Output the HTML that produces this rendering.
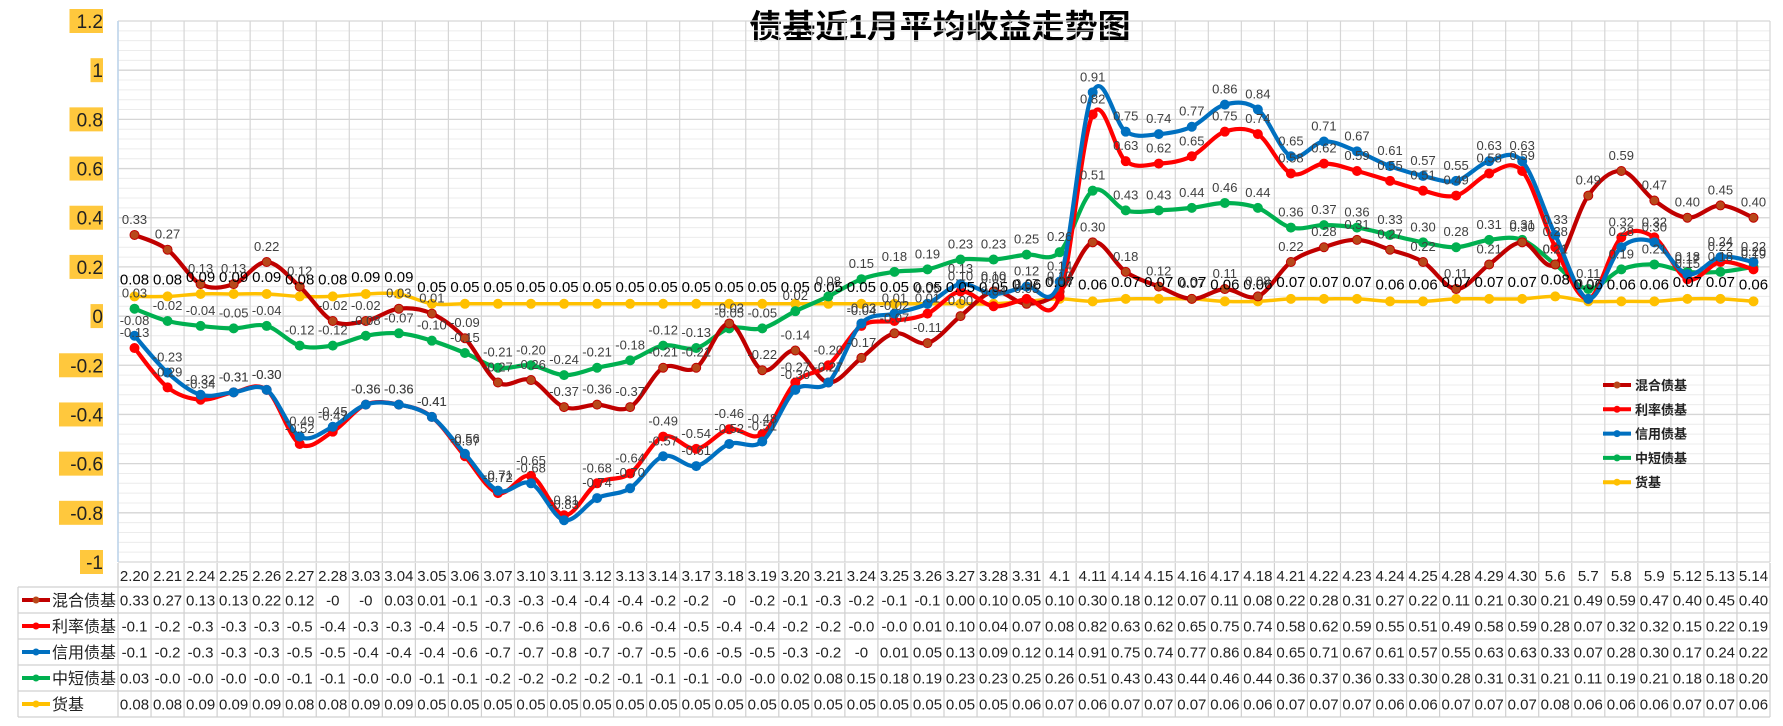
<!DOCTYPE html>
<html><head><meta charset="utf-8"><style>
body{margin:0;background:#fff;}
svg{display:block;font-family:"Liberation Sans","Noto Sans CJK SC",sans-serif;}
</style></head><body>
<svg id="chart" width="1783" height="726" viewBox="0 0 1783 726" xmlns="http://www.w3.org/2000/svg">
<text x="940" y="38" text-anchor="middle" font-size="33" font-weight="bold" fill="#000">债基近1月平均收益走势图</text>
<g id="grid"></g>
<g id="yaxis"></g>
<g id="series"></g>
<g id="labels"></g>
<g id="legend"></g>
<g id="table"></g>
</svg>
<script>
const categories=["2.20","2.21","2.24","2.25","2.26","2.27","2.28","3.03","3.04","3.05","3.06","3.07","3.10","3.11","3.12","3.13","3.14","3.17","3.18","3.19","3.20","3.21","3.24","3.25","3.26","3.27","3.28","3.31","4.1","4.11","4.14","4.15","4.16","4.17","4.18","4.21","4.22","4.23","4.24","4.25","4.28","4.29","4.30","5.6","5.7","5.8","5.9","5.12","5.13","5.14"];
const seriesNames=["混合债基","利率债基","信用债基","中短债基","货基"];
const hunhe=[0.33,0.27,0.13,0.13,0.22,0.12,-0.02,-0.02,0.03,0.01,-0.09,-0.27,-0.26,-0.37,-0.36,-0.37,-0.21,-0.21,-0.03,-0.22,-0.14,-0.27,-0.17,-0.07,-0.11,0.00,0.10,0.05,0.10,0.30,0.18,0.12,0.07,0.11,0.08,0.22,0.28,0.31,0.27,0.22,0.11,0.21,0.30,0.21,0.49,0.59,0.47,0.40,0.45,0.40];
const lilv=[-0.13,-0.29,-0.34,-0.31,-0.30,-0.52,-0.47,-0.36,-0.36,-0.41,-0.57,-0.72,-0.65,-0.81,-0.68,-0.64,-0.49,-0.54,-0.46,-0.48,-0.27,-0.20,-0.04,-0.02,0.01,0.10,0.04,0.07,0.08,0.82,0.63,0.62,0.65,0.75,0.74,0.58,0.62,0.59,0.55,0.51,0.49,0.58,0.59,0.28,0.07,0.32,0.32,0.15,0.22,0.19];
const xinyong=[-0.08,-0.23,-0.32,-0.31,-0.30,-0.49,-0.45,-0.36,-0.36,-0.41,-0.56,-0.71,-0.68,-0.83,-0.74,-0.70,-0.57,-0.61,-0.52,-0.51,-0.30,-0.27,-0.03,0.01,0.05,0.13,0.09,0.12,0.14,0.91,0.75,0.74,0.77,0.86,0.84,0.65,0.71,0.67,0.61,0.57,0.55,0.63,0.63,0.33,0.07,0.28,0.30,0.17,0.24,0.22];
const zhongduan=[0.03,-0.02,-0.04,-0.05,-0.04,-0.12,-0.12,-0.08,-0.07,-0.10,-0.15,-0.21,-0.20,-0.24,-0.21,-0.18,-0.12,-0.13,-0.05,-0.05,0.02,0.08,0.15,0.18,0.19,0.23,0.23,0.25,0.26,0.51,0.43,0.43,0.44,0.46,0.44,0.36,0.37,0.36,0.33,0.30,0.28,0.31,0.31,0.21,0.11,0.19,0.21,0.18,0.18,0.20];
const huoji=[0.08,0.08,0.09,0.09,0.09,0.08,0.08,0.09,0.09,0.05,0.05,0.05,0.05,0.05,0.05,0.05,0.05,0.05,0.05,0.05,0.05,0.05,0.05,0.05,0.05,0.05,0.05,0.06,0.07,0.06,0.07,0.07,0.07,0.06,0.06,0.07,0.07,0.07,0.06,0.06,0.07,0.07,0.07,0.08,0.06,0.06,0.06,0.07,0.07,0.06];
const tableHunhe=["0.33","0.27","0.13","0.13","0.22","0.12","-0","-0","0.03","0.01","-0.1","-0.3","-0.3","-0.4","-0.4","-0.4","-0.2","-0.2","-0","-0.2","-0.1","-0.3","-0.2","-0.1","-0.1","0.00","0.10","0.05","0.10","0.30","0.18","0.12","0.07","0.11","0.08","0.22","0.28","0.31","0.27","0.22","0.11","0.21","0.30","0.21","0.49","0.59","0.47","0.40","0.45","0.40"];
const tableLilv=["-0.1","-0.2","-0.3","-0.3","-0.3","-0.5","-0.4","-0.3","-0.3","-0.4","-0.5","-0.7","-0.6","-0.8","-0.6","-0.6","-0.4","-0.5","-0.4","-0.4","-0.2","-0.2","-0.0","-0.0","0.01","0.10","0.04","0.07","0.08","0.82","0.63","0.62","0.65","0.75","0.74","0.58","0.62","0.59","0.55","0.51","0.49","0.58","0.59","0.28","0.07","0.32","0.32","0.15","0.22","0.19"];
const tableXinyong=["-0.1","-0.2","-0.3","-0.3","-0.3","-0.5","-0.5","-0.4","-0.4","-0.4","-0.6","-0.7","-0.7","-0.8","-0.7","-0.7","-0.5","-0.6","-0.5","-0.5","-0.3","-0.2","-0","0.01","0.05","0.13","0.09","0.12","0.14","0.91","0.75","0.74","0.77","0.86","0.84","0.65","0.71","0.67","0.61","0.57","0.55","0.63","0.63","0.33","0.07","0.28","0.30","0.17","0.24","0.22"];
const tableZhongduan=["0.03","-0.0","-0.0","-0.0","-0.0","-0.1","-0.1","-0.0","-0.0","-0.1","-0.1","-0.2","-0.2","-0.2","-0.2","-0.1","-0.1","-0.1","-0.0","-0.0","0.02","0.08","0.15","0.18","0.19","0.23","0.23","0.25","0.26","0.51","0.43","0.43","0.44","0.46","0.44","0.36","0.37","0.36","0.33","0.30","0.28","0.31","0.31","0.21","0.11","0.19","0.21","0.18","0.18","0.20"];
const yTicks=[1.2,1,0.8,0.6,0.4,0.2,0,-0.2,-0.4,-0.6,-0.8,-1];
const yTickLabels=["1.2","1","0.8","0.6","0.4","0.2","0","-0.2","-0.4","-0.6","-0.8","-1"];

const NS="http://www.w3.org/2000/svg";
const L=118,R=1770,T=21,B=562,YMAX=1.2,YMIN=-1;
const colW=(R-L)/categories.length;
function x(i){return L+colW*(i+0.5);}
function y(v){return T+(YMAX-v)/(YMAX-YMIN)*(B-T);}
function mk(tag,attrs,parent){const e=document.createElementNS(NS,tag);for(const k in attrs)e.setAttribute(k,attrs[k]);parent.appendChild(e);return e;}
const grid=document.getElementById('grid');
for(let v=YMIN;v<=YMAX+1e-9;v+=0.04){
  const ln=mk('line',{x1:L,x2:R,y1:y(v),y2:y(v),stroke:'#ececec','stroke-width':1},grid);
  
  
}
yTicks.forEach(v=>{
  const ln=mk('line',{x1:L,x2:R,y1:y(v),y2:y(v),stroke:'#d6d6d6','stroke-width':1.3},grid);
  
  
});
for(let i=0;i<=categories.length;i++){
  const ln=mk('line',{x1:L+colW*i,x2:L+colW*i,y1:T,y2:B,stroke:'#d6d6d6','stroke-width':1.2},grid);
  
  
}
const axl=mk('line',{x1:L,x2:L,y1:T,y2:B,stroke:'#bcd4ec','stroke-width':1.5},grid);


const ya=document.getElementById('yaxis');
yTicks.forEach((v,i)=>{
  const t=yTickLabels[i];
  const w=t.length*10.5+2;
  const r=mk('rect',{x:103-w,y:y(v)-12,width:w,height:24,fill:'#FFC83D'},ya);
  
  
  const tx=mk('text',{x:103,y:y(v)+7,'text-anchor':'end','font-size':19,fill:'#222'},ya);
  tx.textContent=t;
  
  
});
function smooth(pts){
  let d='M'+pts[0][0]+','+pts[0][1];
  for(let i=0;i<pts.length-1;i++){
    const p0=pts[i-1]||pts[i],p1=pts[i],p2=pts[i+1],p3=pts[i+2]||p2;
    const c1=[p1[0]+(p2[0]-p0[0])/6,p1[1]+(p2[1]-p0[1])/6];
    const c2=[p2[0]-(p3[0]-p1[0])/6,p2[1]-(p3[1]-p1[1])/6];
    d+=' C'+c1[0]+','+c1[1]+' '+c2[0]+','+c2[1]+' '+p2[0]+','+p2[1];
  }
  return d;
}
const allSeries=[hunhe,lilv,xinyong,zhongduan,huoji];
const colors=['#C00000','#FF0000','#0070C0','#00B050','#FFC000'];
const markerFill=['#B8481A','#FF0000','#0070C0','#00B050','#FFC000'];
const seriesKeys=['hunhe','lilv','xinyong','zhongduan','huoji'];
const sg=document.getElementById('series');
const lg=document.getElementById('labels');
[4,3,0,1,2].forEach(s=>{
  const data=allSeries[s];
  const pts=data.map((v,i)=>[x(i),y(v)]);
  const p=mk('path',{d:smooth(pts),fill:'none',stroke:colors[s],'stroke-width':s==4?3.5:4.2,'stroke-linejoin':'round'},sg);
  
  
  pts.forEach((pt,i)=>{
    const c=mk('circle',{cx:pt[0],cy:pt[1],r:4.5,fill:markerFill[s],stroke:colors[s],'stroke-width':1},sg);
    
    
    const t=mk('text',{x:pt[0],y:s==4?pt[1]-12:pt[1]-11,'text-anchor':'middle','font-size':s==4?15:13,fill:s==4?'#000':'#404040'},lg);
    t.textContent=data[i].toFixed(2);
    
    
  });
});
const leg=document.getElementById('legend');
seriesNames.forEach((n,s)=>{
  const yy=385+s*24.3;
  const ln=mk('line',{x1:1603,x2:1631,y1:yy,y2:yy,stroke:colors[s],'stroke-width':4},leg);
  
  
  const c=mk('circle',{cx:1617,cy:yy,r:3.5,fill:markerFill[s]},leg);
  
  
  const t=mk('text',{x:1635,y:yy+5,'font-size':13,'font-weight':'bold',fill:'#222'},leg);
  t.textContent=n;
  
  
});
const tb=document.getElementById('table');
const tableRows=[tableHunhe,tableLilv,tableXinyong,tableZhongduan,huoji.map(v=>v.toFixed(2))];
const rowTop=587,rowH=26;
const hl=[[L,563,L,587],[R,563,R,587]];
hl.forEach(a=>{const l=mk('line',{x1:a[0],y1:a[1],x2:a[2],y2:a[3],stroke:'#d0d0d0','stroke-width':1.2},tb);});
for(let r=0;r<=5;r++){
  const l=mk('line',{x1:18,x2:R,y1:rowTop+r*rowH,y2:rowTop+r*rowH,stroke:'#d0d0d0','stroke-width':1.2},tb);
  
  
}
const l0=mk('line',{x1:18,x2:18,y1:rowTop,y2:rowTop+5*rowH,stroke:'#d0d0d0','stroke-width':1.2},tb);


for(let i=0;i<=categories.length;i++){
  const l=mk('line',{x1:L+colW*i,x2:L+colW*i,y1:563,y2:rowTop+5*rowH,stroke:'#d0d0d0','stroke-width':1.2},tb);
  
  
}
categories.forEach((c,i)=>{
  const t=mk('text',{x:x(i),y:581,'text-anchor':'middle','font-size':15,fill:'#222'},tb);
  t.textContent=c;
  
  
});
tableRows.forEach((row,r)=>{
  const cy=rowTop+r*rowH+rowH/2;
  const ln=mk('line',{x1:22,x2:50,y1:cy,y2:cy,stroke:colors[r],'stroke-width':4},tb);
  
  
  const c=mk('circle',{cx:36,cy:cy,r:3.5,fill:markerFill[r]},tb);
  
  
  const t=mk('text',{x:52,y:cy+6,'font-size':16,fill:'#222'},tb);
  t.textContent=seriesNames[r];
  
  
  row.forEach((v,i)=>{
    const tv=mk('text',{x:x(i),y:cy+5.5,'text-anchor':'middle','font-size':15,fill:'#222'},tb);
    tv.textContent=v;
    
    
  });
});
</script>
</body></html>
